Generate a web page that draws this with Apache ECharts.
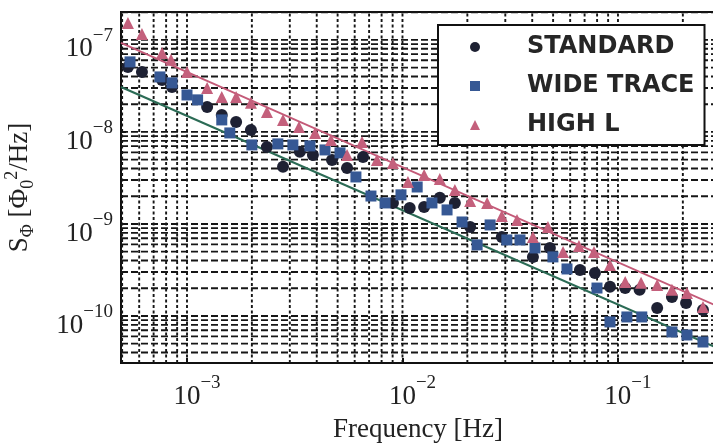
<!DOCTYPE html>
<html>
<head>
<meta charset="utf-8">
<script src="https://cdn.jsdelivr.net/npm/echarts@6/dist/echarts.min.js"></script>
<style>
  html, body { margin: 0; padding: 0; background: #fff; }
  #chart { width: 713px; height: 443px; }
</style>
</head>
<body>
<div id="chart"></div>
<script>
// STANDARD (circles)
var standardFreq = [5.32e-4, 6.18e-4, 7.66e-4, 8.52e-4, 1.24e-3, 1.45e-3, 1.69e-3, 1.98e-3, 2.35e-3, 2.79e-3,
  3.34e-3, 3.84e-3, 4.71e-3, 5.53e-3, 6.56e-3, 9.03e-3, 1.08e-2, 1.26e-2, 1.49e-2, 1.75e-2,
  2.06e-2, 2.89e-2, 4.03e-2, 4.83e-2, 6.66e-2, 7.82e-2, 9.18e-2, 0.108, 0.126, 0.152,
  0.178, 0.207, 0.248];
var standardPsd = [5.09e-8, 4.49e-8, 3.67e-8, 3.08e-8, 1.87e-8, 1.53e-8, 1.28e-8, 1.05e-8, 6.87e-9, 4.17e-9,
  6.07e-9, 5.62e-9, 4.96e-9, 4.06e-9, 5.35e-9, 1.69e-9, 1.49e-9, 1.53e-9, 1.92e-9, 1.69e-9,
  9.27e-10, 7.22e-10, 4.38e-10, 5.48e-10, 3.16e-10, 2.93e-10, 2.07e-10, 2.01e-10, 1.92e-10, 1.22e-10,
  1.61e-10, 1.38e-10, 1.16e-10];

// WIDE TRACE (squares)
var wideFreq = [5.44e-4, 7.49e-4, 8.52e-4, 1.0e-3, 1.12e-3, 1.45e-3, 1.58e-3, 2.0e-3, 2.64e-3, 3.10e-3,
  3.72e-3, 4.37e-3, 5.13e-3, 6.08e-3, 7.14e-3, 8.30e-3, 9.84e-3, 1.17e-2, 1.37e-2, 1.61e-2,
  1.89e-2, 2.22e-2, 2.55e-2, 3.05e-2, 3.51e-2, 4.12e-2, 4.99e-2, 5.80e-2, 7.99e-2, 9.18e-2,
  0.110, 0.129, 0.178, 0.209, 0.248];
var widePsd = [5.77e-8, 3.96e-8, 3.41e-8, 2.52e-8, 2.23e-8, 1.35e-8, 9.75e-9, 7.22e-9, 7.41e-9, 7.22e-9,
  7.05e-9, 6.37e-9, 5.92e-9, 3.24e-9, 2.01e-9, 1.69e-9, 2.07e-9, 2.52e-9, 1.69e-9, 1.42e-9,
  1.05e-9, 5.92e-10, 9.75e-10, 6.70e-10, 6.70e-10, 5.48e-10, 4.38e-10, 3.24e-10, 2.01e-10, 8.61e-11,
  9.75e-11, 9.75e-11, 6.70e-11, 6.21e-11, 5.21e-11];

// HIGH L (triangles)
var highFreq = [5.32e-4, 6.18e-4, 7.66e-4, 8.43e-4, 1.0e-3, 1.24e-3, 1.45e-3, 1.69e-3, 1.98e-3, 2.35e-3,
  2.79e-3, 3.31e-3, 3.93e-3, 4.66e-3, 5.53e-3, 6.49e-3, 7.61e-3, 9.03e-3, 1.06e-2, 1.26e-2,
  1.49e-2, 1.75e-2, 2.06e-2, 2.47e-2, 2.89e-2, 3.40e-2, 4.03e-2, 4.73e-2, 5.56e-2, 6.59e-2,
  7.74e-2, 9.18e-2, 0.108, 0.128, 0.152, 0.178, 0.209, 0.248];
var highPsd = [1.53e-7, 1.16e-7, 7.22e-8, 6.07e-8, 4.49e-8, 3.01e-8, 2.40e-8, 2.40e-8, 2.07e-8, 1.65e-8,
  1.35e-8, 1.13e-8, 9.75e-9, 8.18e-9, 5.62e-9, 7.78e-9, 4.96e-9, 4.60e-9, 2.86e-9, 3.41e-9,
  3.08e-9, 2.34e-9, 1.78e-9, 1.69e-9, 1.22e-9, 1.10e-9, 7.22e-10, 9.27e-10, 4.96e-10, 5.77e-10,
  4.96e-10, 3.58e-10, 2.34e-10, 2.29e-10, 2.17e-10, 1.92e-10, 1.78e-10, 1.25e-10];

// fit lines (end points)
var redLineFreq = [4.94e-4, 0.282];
var redLinePsd = [9.28e-8, 1.31e-10];
var greenLineFreq = [4.94e-4, 0.282];
var greenLinePsd = [3.08e-8, 4.60e-11];

// axes
var xTickExps = [-3, -2, -1];
var yTickExps = [-10, -9, -8, -7];
var gridMults = [1, 2, 3, 4, 5, 6, 7, 8, 9];
var xDecades = [-4, -3, -2, -1];
var yDecades = [-11, -10, -9, -8, -7];
var xMin = 4.94e-4, xMax = 0.282;
var yMin = 3.08e-11, yMax = 2.01e-7;

function zip(a, b) {
  var out = [];
  for (var i = 0; i < a.length; i++) out.push([a[i], b[i]]);
  return out;
}
function gridValues(decades, lo, hi) {
  var out = [];
  decades.forEach(function (d) {
    gridMults.forEach(function (m) {
      var v = m * Math.pow(10, d);
      if (v > lo * 1.001 && v < hi * 0.999) out.push(v);
    });
  });
  return out;
}
// grid lines as broken line series: each segment spans the axis range, '-' breaks them
function vGridData() {
  var out = [];
  gridValues(xDecades, xMin, xMax).forEach(function (v) {
    out.push([v, yMin], [v, yMax], [v, '-']);
  });
  return out;
}
function hGridData() {
  var out = [];
  gridValues(yDecades, yMin, yMax).forEach(function (v) {
    out.push([xMin, v], [xMax, v], ['-', v]);
  });
  return out;
}
function powLabel(exps, pad) {
  return function (v) {
    var lg = Math.log10(v);
    var e = Math.round(lg);
    if (Math.abs(lg - e) > 1e-6 || exps.indexOf(e) < 0) return '';
    return (pad ? '{p|}' : '') + '{b|10}{s|\u2212' + (-e) + '}';
  };
}

var serif = '"Liberation Serif", "DejaVu Serif", serif';
var labelRich = {
  p: { width: 20 },
  b: { fontFamily: serif, fontSize: 27, lineHeight: 36, verticalAlign: 'bottom', color: '#222' },
  s: { fontFamily: serif, fontSize: 19, lineHeight: 19, verticalAlign: 'top', color: '#222' }
};

var myChart = echarts.init(document.getElementById('chart'));
var option = {
  animation: false,
  grid: {
    left: 121, top: 12, right: -2, bottom: 80,
    containLabel: false, outerBoundsMode: 'none',
    show: true, borderColor: '#111', borderWidth: 2, backgroundColor: 'transparent'
  },
  legend: {
    data: ['STANDARD', 'WIDE TRACE', 'HIGH L'],
    orient: 'vertical',
    left: 438, top: 25,
    padding: [10, 10, 8, 32],
    itemWidth: 10, itemHeight: 10, itemGap: 15,
    backgroundColor: '#fff',
    borderColor: '#111', borderWidth: 2,
    formatter: '{t|{name}}',
    textStyle: {
      rich: {
        t: { padding: [0, 0, 0, 42], fontFamily: '"DejaVu Sans", sans-serif', fontWeight: 'bold',
             fontSize: 24, lineHeight: 24, color: '#262626' }
      }
    },
    z: 10
  },
  xAxis: {
    type: 'log', logBase: 10, min: xMin, max: xMax,
    name: 'Frequency [Hz]', nameLocation: 'middle', nameGap: 53,
    nameTextStyle: { fontFamily: serif, fontSize: 27, color: '#222' },
    axisLine: { show: true, lineStyle: { color: '#111', width: 2 } },
    axisTick: { show: true, inside: true, length: 5, lineStyle: { color: '#111', width: 2 } },
    axisLabel: { margin: 11, formatter: powLabel(xTickExps, true), rich: labelRich },
    splitLine: { show: false }
  },
  yAxis: {
    type: 'log', logBase: 10, min: yMin, max: yMax,
    name: '{m|S}{sub|\u03A6}{m| [\u03A6}{sub|0}{sup|2}{m|/Hz]}',
    nameLocation: 'middle', nameGap: 84,
    nameTextStyle: {
      rich: {
        m: { fontFamily: serif, fontSize: 27, lineHeight: 34, verticalAlign: 'middle', color: '#222' },
        sub: { fontFamily: serif, fontSize: 18, lineHeight: 18, verticalAlign: 'bottom', color: '#222' },
        sup: { fontFamily: serif, fontSize: 18, lineHeight: 18, verticalAlign: 'top', color: '#222' }
      }
    },
    axisLine: { show: true, lineStyle: { color: '#111', width: 2 } },
    axisTick: { show: true, inside: true, length: 5, lineStyle: { color: '#111', width: 2 } },
    axisLabel: { margin: 8, padding: [10, 0, 0, 0], formatter: powLabel(yTickExps, false), rich: labelRich },
    splitLine: { show: false }
  },
  series: [
    {
      name: 'vgrid', type: 'line', silent: true, showSymbol: false, connectNulls: false, z: 1,
      lineStyle: { color: '#161616', width: 1.9, type: [3, 2.5] },
      data: vGridData()
    },
    {
      name: 'hgrid', type: 'line', silent: true, showSymbol: false, connectNulls: false, z: 1,
      lineStyle: { color: '#161616', width: 1.9, type: [7, 3] },
      data: hGridData()
    },
    {
      name: 'fitRed', type: 'line', showSymbol: false, silent: true, z: 3,
      lineStyle: { color: '#c45a78', width: 2 },
      data: zip(redLineFreq, redLinePsd)
    },
    {
      name: 'fitGreen', type: 'line', showSymbol: false, silent: true, z: 3,
      lineStyle: { color: '#2b6b55', width: 2.2 },
      data: zip(greenLineFreq, greenLinePsd)
    },
    {
      name: 'STANDARD', type: 'scatter', symbol: 'circle', symbolSize: 12, z: 4,
      itemStyle: { color: '#1e2133', opacity: 1 },
      data: zip(standardFreq, standardPsd)
    },
    {
      name: 'WIDE TRACE', type: 'scatter', symbol: 'rect', symbolSize: 11, z: 4,
      itemStyle: { color: '#365894', opacity: 1 },
      data: zip(wideFreq, widePsd)
    },
    {
      name: 'HIGH L', type: 'scatter', symbol: 'triangle', symbolSize: 12, z: 4,
      itemStyle: { color: '#c4607c', opacity: 1 },
      data: zip(highFreq, highPsd)
    }
  ]
};
myChart.setOption(option);
</script>
</body>
</html>
